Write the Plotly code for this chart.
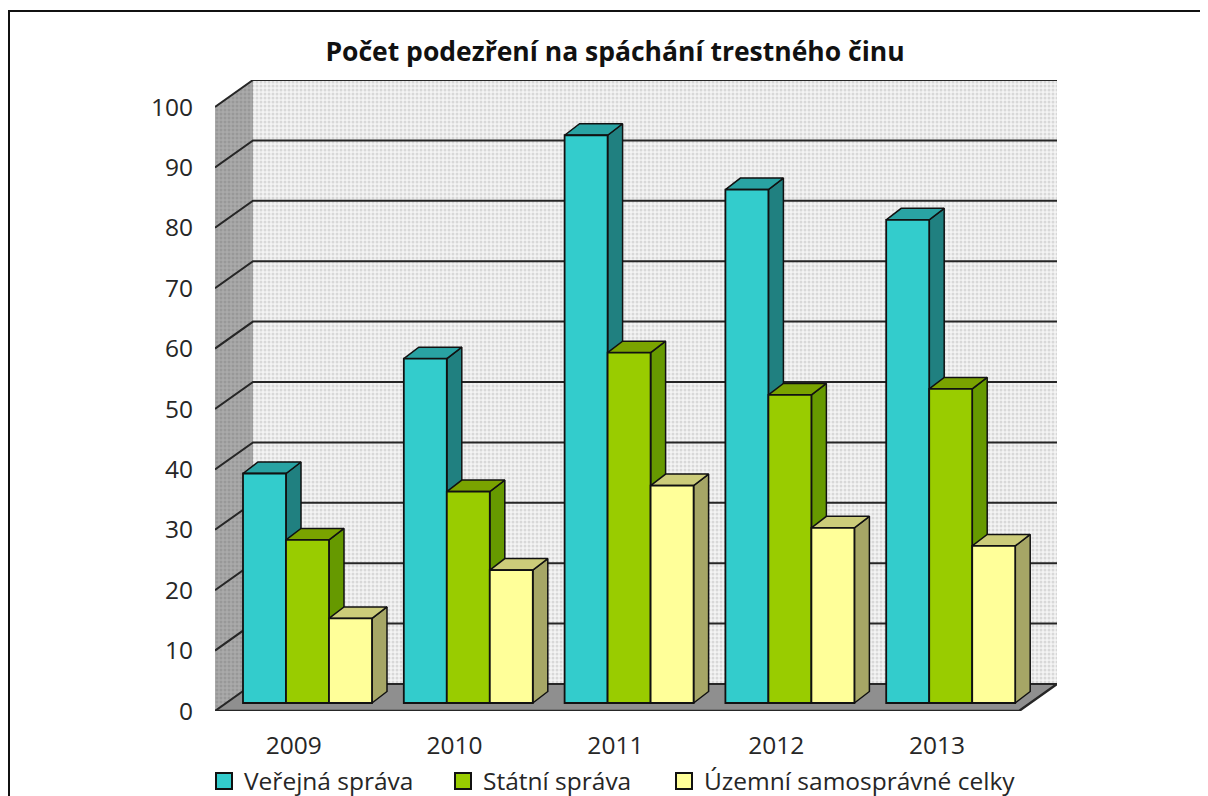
import plotly.graph_objects as go

years = ["2009", "2010", "2011", "2012", "2013"]
verejna = [38, 57, 94, 85, 80]
statni = [27, 35, 58, 51, 52]
uzemni = [14, 22, 36, 29, 26]
series_names = ["Veřejná správa", "Státní správa", "Územní samosprávné celky"]
y_ticks = [0, 10, 20, 30, 40, 50, 60, 70, 80, 90, 100]

OFF = 8                                     # page margin round the figure
W, H = 1200, 788
L, R, T, B = 215, 1057, 80, 711             # plot area in page pixels
ux = 160.8                                  # pixels per category
uy = 6.04                                   # pixels per value unit
base_px = 703                               # baseline of the bars


def px(p):
    return (p - OFF) / W


def py(p):
    return 1 - (p - OFF) / H


xr = [0, (R - L) / ux]
yr = [0, (B - T) / uy]
yb = [-(B - base_px) / uy, (base_px - T) / uy]

wall_dx, wall_dy = 38 / ux, 27 / uy
bar_dx, bar_dy = 15 / ux, 11.5 / uy
bar_w = 43 / ux
bar_start = (243 - L) / ux

FONT = "Open Sans"
styles = [
    dict(front="#33CCCC", side="#208080", top="#29A3A3"),
    dict(front="#99CC00", side="#669900", top="#7AA300"),
    dict(front="#FFFF99", side="#A6A666", top="#CCCC7A"),
]
all_values = [verejna, statni, uzemni]

fig = go.Figure()


def poly(xs, ys, yaxis="y", **kw):
    fig.add_trace(go.Scatter(x=xs, y=ys, yaxis=yaxis, mode="lines", fill="toself",
                             hoverinfo="skip", showlegend=False, **kw))


# walls and floor
poly([wall_dx, xr[1], xr[1], wall_dx, wall_dx],
     [wall_dy, wall_dy, 100 + wall_dy, 100 + wall_dy, wall_dy],
     line=dict(width=0), fillcolor="#f0f0f0",
     fillpattern=dict(shape=".", bgcolor="#f4f4f4", fgcolor="#bcbcbc", size=4, solidity=0.45))
poly([0, wall_dx, wall_dx, 0, 0], [0, wall_dy, 100 + wall_dy, 100, 0],
     line=dict(width=0), fillcolor="#a0a0a0",
     fillpattern=dict(shape=".", bgcolor="#aaaaaa", fgcolor="#858585", size=4, solidity=0.45))
poly([0, 5, 5 + wall_dx, wall_dx, 0], [0, 0, wall_dy, wall_dy, 0],
     line=dict(width=0), fillcolor="#8f8f8f")

# grid lines on both walls
for v in y_ticks:
    fig.add_trace(go.Scatter(x=[0, wall_dx, xr[1]], y=[v, v + wall_dy, v + wall_dy],
                             mode="lines", line=dict(color="#262626", width=2),
                             hoverinfo="skip", showlegend=False))
fig.add_trace(go.Scatter(x=[0, 5, 5 + wall_dx], y=[0, 0, wall_dy], mode="lines",
                         line=dict(color="#262626", width=2.4),
                         hoverinfo="skip", showlegend=False))

# side and top faces, on the bar value scale
edge = dict(color="#111111", width=1.5)
for i in range(len(years)):
    for j, vals in enumerate(all_values):
        v = vals[i]
        x0 = i + bar_start + j * bar_w
        x1 = x0 + bar_w
        poly([x1, x1 + bar_dx, x1 + bar_dx, x1, x1], [0, bar_dy, v + bar_dy, v, 0],
             yaxis="y2", line=edge, fillcolor=styles[j]["side"])
        poly([x0, x1, x1 + bar_dx, x0 + bar_dx, x0], [v, v, v + bar_dy, v + bar_dy, v],
             yaxis="y2", line=edge, fillcolor=styles[j]["top"])

# front faces
for j, vals in enumerate(all_values):
    fig.add_trace(go.Bar(x=[i + bar_start + (j + 0.5) * bar_w for i in range(len(years))],
                         y=vals, width=bar_w, yaxis="y3", showlegend=False,
                         name=series_names[j],
                         marker=dict(color=styles[j]["front"], line=dict(color="#111111", width=1.8))))

# legend entries, one legend per series so each sits where the reference has it
legend_ids = ["legend", "legend2", "legend3"]
legend_text_x = [244, 483, 704]
for j, name in enumerate(series_names):
    fig.add_trace(go.Scatter(x=[None], y=[None], mode="markers", name=name, legend=legend_ids[j],
                             marker=dict(symbol="square", size=16, color=styles[j]["front"],
                                         line=dict(color="#111111", width=2))))

legend_font = dict(family=FONT, size=24.5, color="#262626")
legend_layout = {
    lid: dict(x=px(tx - 40), xanchor="left", y=py(781), yanchor="middle",
              bgcolor="rgba(0,0,0,0)", font=legend_font, itemsizing="trace")
    for lid, tx in zip(legend_ids, legend_text_x)
}

fig.update_layout(
    width=W, height=H, autosize=False,
    margin=dict(l=0, r=0, t=0, b=0, pad=0, autoexpand=False),
    paper_bgcolor="white", plot_bgcolor="rgba(0,0,0,0)",
    barmode="overlay",
    font=dict(family=FONT, size=24.5, color="#262626"),
    title=dict(text="<b>Počet podezření na spáchání trestného činu</b>",
               x=px(615), xanchor="center", y=py(52), yanchor="middle", yref="container",
               font=dict(family=FONT, size=26.5, color="#111111")),
    xaxis=dict(domain=[px(L), px(R)], range=xr,
               tickvals=[i + 0.49 for i in range(len(years))], ticktext=years,
               showgrid=False, zeroline=False, showline=False,
               ticks="outside", ticklen=13, tickcolor="rgba(0,0,0,0)"),
    yaxis=dict(domain=[py(B), py(T)], range=yr, tickvals=y_ticks,
               showgrid=False, zeroline=False, showline=False,
               ticks="outside", ticklen=16, tickcolor="rgba(0,0,0,0)"),
    yaxis2=dict(range=yb, overlaying="y", visible=False),
    yaxis3=dict(range=yb, overlaying="y", visible=False),
    shapes=[
        dict(type="line", xref="paper", yref="paper", x0=px(8), x1=1,
             y0=py(11), y1=py(11), line=dict(color="#111111", width=2)),
        dict(type="line", xref="paper", yref="paper", x0=px(9), x1=px(9),
             y0=py(11), y1=0, line=dict(color="#111111", width=2)),
    ],
    **legend_layout,
)

fig.write_html("out.html")
